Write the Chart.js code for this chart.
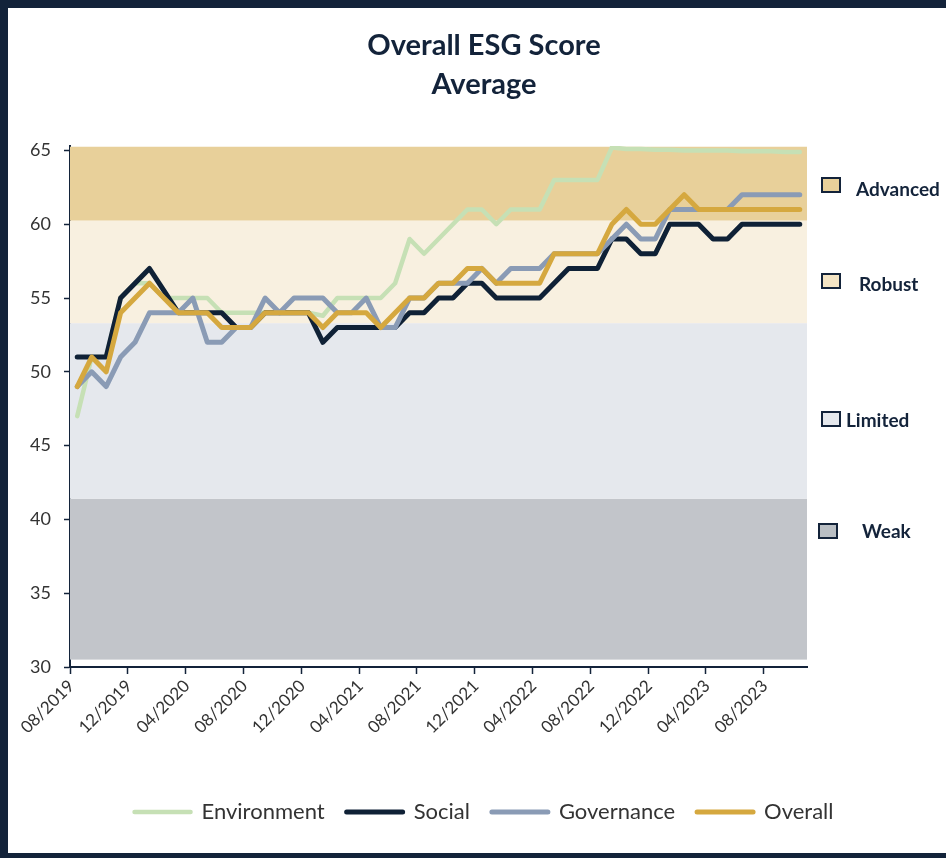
<!DOCTYPE html>
<html>
<head>
<meta charset="utf-8">
<script src="https://cdn.jsdelivr.net/npm/chart.js@4.4.1/dist/chart.umd.min.js"></script>
<style>
  html, body { margin: 0; padding: 0; background: #fff; overflow: hidden; }
  #wrap { position: relative; width: 946px; height: 858px; }
  #chart { position: absolute; left: 0; top: 0; }
  #frame {
    position: absolute; left: 0; top: 0; width: 946px; height: 858px; box-sizing: border-box;
    border-left: 8px solid #13233a; border-top: 8px solid #13233a; border-bottom: 5px solid #13233a;
    pointer-events: none;
  }
  .key-box { position: absolute; width: 16px; height: 12px; border: 2px solid #13233a; }
  .key-text { position: absolute; height: 22px; line-height: 22px; font: bold 19px Lato, "Open Sans", sans-serif; color: #13233a; }
</style>
</head>
<body>
<div id="wrap">
  <canvas id="chart" width="946" height="858"></canvas>
  <div id="frame"></div>

  <!-- score band key on the right -->
  <div class="key-box" style="left:821px; top:177px; background:#e8d09a;"></div>
  <div class="key-text" style="left:856px; top:177px;">Advanced</div>
  <div class="key-box" style="left:821px; top:273px; background:#f3e4c4;"></div>
  <div class="key-text" style="left:859px; top:272px;">Robust</div>
  <div class="key-box" style="left:821px; top:411px; background:#e5e8ed;"></div>
  <div class="key-text" style="left:846px; top:408px;">Limited</div>
  <div class="key-box" style="left:818px; top:523px; background:#b9bec3;"></div>
  <div class="key-text" style="left:862px; top:519px;">Weak</div>
</div>

<script>
  const months = [
    '08/2019', '09/2019', '10/2019', '11/2019', '12/2019',
    '01/2020', '02/2020', '03/2020', '04/2020', '05/2020', '06/2020', '07/2020', '08/2020', '09/2020', '10/2020', '11/2020', '12/2020',
    '01/2021', '02/2021', '03/2021', '04/2021', '05/2021', '06/2021', '07/2021', '08/2021', '09/2021', '10/2021', '11/2021', '12/2021',
    '01/2022', '02/2022', '03/2022', '04/2022', '05/2022', '06/2022', '07/2022', '08/2022', '09/2022', '10/2022', '11/2022', '12/2022',
    '01/2023', '02/2023', '03/2023', '04/2023', '05/2023', '06/2023', '07/2023', '08/2023', '09/2023', '10/2023'
  ];

  const environment = [47, 51, 51, 55, 56, 56, 55, 55, 55, 55,
    54, 54, 54, 54, 54, 54, 54, 53.8, 55, 55,
    55, 55, 56, 59, 58, 59, 60, 61, 61, 60,
    61, 61, 61, 63, 63, 63, 63, 65.2, 65.1, 65.1,
    65.05, 65.05, 65, 65, 65, 65, 64.95, 64.95, 64.95, 64.9, 64.9];

  const social = [51, 51, 51, 55, 56, 57, 55.5, 54, 54, 54,
    54, 53, 53, 54, 54, 54, 54, 52, 53, 53,
    53, 53, 53, 54, 54, 55, 55, 56, 56, 55,
    55, 55, 55, 56, 57, 57, 57, 59, 59, 58,
    58, 60, 60, 60, 59, 59, 60, 60, 60, 60, 60];

  const governance = [49, 50, 49, 51, 52, 54, 54, 54, 55, 52,
    52, 53, 53, 55, 54, 55, 55, 55, 54, 54,
    55, 53, 53, 55, 55, 56, 56, 56, 57, 56,
    57, 57, 57, 58, 58, 58, 58, 59, 60, 59,
    59, 61, 61, 61, 61, 61, 62, 62, 62, 62, 62];

  const overall = [49, 51, 50, 54, 55, 56, 55, 54, 54, 54,
    53, 53, 53, 54, 54, 54, 54, 53, 54, 54,
    54, 53, 54, 55, 55, 56, 56, 57, 57, 56,
    56, 56, 56, 58, 58, 58, 58, 60, 61, 60,
    60, 61, 62, 61, 61, 61, 61, 61, 61, 61, 61];

  const yTicks = [30, 35, 40, 45, 50, 55, 60, 65];

  // score bands behind the lines
  const bandNames = ['Weak', 'Limited', 'Robust', 'Advanced'];
  const bandLow = [30.5, 41.4, 53.3, 60.25];
  const bandHigh = [41.4, 53.3, 60.25, 65.25];
  const bandColors = ['#c2c5ca', '#e5e8ed', '#f8f0e0', '#e8d09a'];

  const navy = '#13233a';
  const textGrey = '#333333';
  const fontFamily = 'Lato, "Open Sans", sans-serif';

  const bandPlugin = {
    id: 'bands',
    beforeDatasetsDraw(chart) {
      const { ctx, chartArea, scales } = chart;
      ctx.save();
      bandNames.forEach((name, i) => {
        const top = scales.y.getPixelForValue(bandHigh[i]);
        const bottom = scales.y.getPixelForValue(bandLow[i]);
        ctx.fillStyle = bandColors[i];
        ctx.fillRect(chartArea.left, top, chartArea.right - chartArea.left, bottom - top);
      });
      ctx.restore();
    }
  };

  const ctx = document.getElementById('chart').getContext('2d');
  new Chart(ctx, {
    type: 'line',
    data: {
      labels: months,
      datasets: [
        { label: 'Environment', data: environment, borderColor: '#c6e0b5', backgroundColor: '#c6e0b5', borderWidth: 4.5, order: 4 },
        { label: 'Social', data: social, borderColor: '#0f2136', backgroundColor: '#0f2136', borderWidth: 5, order: 3 },
        { label: 'Governance', data: governance, borderColor: '#8a9bb5', backgroundColor: '#8a9bb5', borderWidth: 5, order: 2 },
        { label: 'Overall', data: overall, borderColor: '#d5a83f', backgroundColor: '#d5a83f', borderWidth: 5, order: 1 }
      ]
    },
    options: {
      responsive: false,
      animation: false,
      elements: {
        point: { radius: 0 },
        line: { tension: 0, borderJoinStyle: 'round', borderCapStyle: 'round' }
      },
      layout: { padding: { left: 22, right: 0, top: 18, bottom: 25 } },
      plugins: {
        tooltip: { enabled: false },
        title: {
          display: true,
          text: ['Overall ESG Score', 'Average'],
          color: navy,
          font: { family: fontFamily, size: 29, weight: 'bold', lineHeight: 1.345 },
          padding: { top: 8, bottom: 42 }
        },
        legend: {
          position: 'bottom',
          labels: {
            color: textGrey,
            font: { family: fontFamily, size: 22 },
            boxWidth: 56,
            boxHeight: 0,
            padding: 22,
            sort: (a, b) => a.datasetIndex - b.datasetIndex
          }
        }
      },
      scales: {
        x: {
          offset: true,
          grid: {
            offset: true,
            drawOnChartArea: false,
            tickLength: 7,
            color: c => (c.index % 4 === 0 ? navy : 'rgba(0,0,0,0)'),
            tickColor: c => (c.index % 4 === 0 ? navy : 'rgba(0,0,0,0)'),
            tickWidth: 1.5
          },
          border: { color: navy, width: 2 },
          ticks: {
            autoSkip: false,
            minRotation: 45,
            maxRotation: 45,
            labelOffset: -6,
            padding: 2,
            color: textGrey,
            font: { family: fontFamily, size: 17 },
            callback: function (value, index) {
              return index % 4 === 0 ? this.getLabelForValue(value) : '';
            }
          },
          afterFit: s => { s.height = 112; }
        },
        y: {
          min: 30,
          max: 65.3,
          afterBuildTicks: s => { s.ticks = yTicks.map(v => ({ value: v })); },
          grid: { drawOnChartArea: false, tickLength: 6, color: navy, tickWidth: 1.5 },
          border: { color: navy, width: 2 },
          ticks: {
            color: textGrey,
            padding: 13,
            font: { family: fontFamily, size: 18 }
          },
          afterFit: s => { s.width = 48; }
        },
        y2: {
          position: 'right',
          display: true,
          grid: { display: false },
          border: { display: false },
          ticks: { display: false },
          afterFit: s => { s.width = 139; }
        }
      }
    },
    plugins: [bandPlugin]
  });
</script>
</body>
</html>
